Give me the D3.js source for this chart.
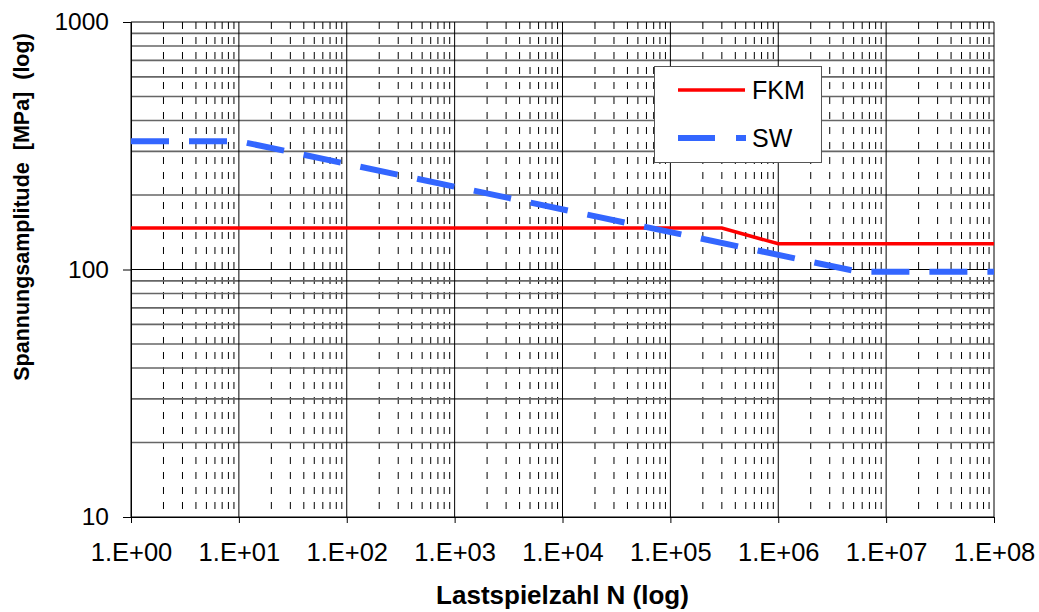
<!DOCTYPE html>
<html>
<head>
<meta charset="utf-8">
<script src="https://cdn.jsdelivr.net/npm/d3@7"></script>
<style>
  body { margin: 0; background: #fff; }
  svg text { font-family: "Liberation Sans", Arial, sans-serif; fill: #000; }
</style>
</head>
<body>
<script>
// values
const fkmN = [1, 3e5, 1e6, 1e8]
const fkmS = [147, 147, 127, 127]
const swN = [1, 10, 5.5e6, 1e8]
const swS = [330, 330, 98, 98]
const xTicks = [1, 1e1, 1e2, 1e3, 1e4, 1e5, 1e6, 1e7, 1e8]
const xTickLabels = ["1.E+00", "1.E+01", "1.E+02", "1.E+03", "1.E+04", "1.E+05", "1.E+06", "1.E+07", "1.E+08"]
const yTicks = [10, 100, 1000]
const yTickLabels = ["10", "100", "1000"]
const seriesNames = ["FKM", "SW"]

const W = 1039, H = 612
const svg = d3.select("body").append("svg").attr("width", W).attr("height", H)

const x = d3.scaleLog().domain([1, 1e8]).range([131, 994])
const y = d3.scaleLog().domain([10, 1000]).range([517, 22])

// minor grid values
let xMinor = []
xTicks.slice(0, -1).forEach(d => { for (let k = 2; k <= 9; k++) xMinor.push(d * k) })
let yMinor = []
yTicks.slice(0, -1).forEach(d => { for (let k = 2; k <= 9; k++) yMinor.push(d * k) })

const grid = svg.append("g")
grid.selectAll(".vmin").data(xMinor).enter().append("line")
  .attr("x1", d => x(d)).attr("x2", d => x(d))
  .attr("y1", y(1000)).attr("y2", y(10))
  .attr("stroke", "#000").attr("stroke-width", 1)
  .attr("stroke-dasharray", "7,8")
grid.selectAll(".hmin").data(yMinor).enter().append("line")
  .attr("x1", x(1)).attr("x2", x(1e8))
  .attr("y1", d => y(d)).attr("y2", d => y(d))
  .attr("stroke", "#666").attr("stroke-width", 1.7)
grid.selectAll(".vmaj").data(xTicks).enter().append("line")
  .attr("x1", d => x(d)).attr("x2", d => x(d))
  .attr("y1", y(1000)).attr("y2", y(10))
  .attr("stroke", "#000").attr("stroke-width", 1)
grid.selectAll(".hmaj").data(yTicks).enter().append("line")
  .attr("x1", x(1)).attr("x2", x(1e8))
  .attr("y1", d => y(d)).attr("y2", d => y(d))
  .attr("stroke", "#000").attr("stroke-width", 1)

// axes
const xAxis = svg.append("g").attr("transform", `translate(0,${y(10)})`)
  .call(d3.axisBottom(x).tickValues(xTicks).tickSize(6).tickPadding(20)
    .tickFormat((d, i) => xTickLabels[i]))
xAxis.select(".domain").attr("stroke", "#000")
xAxis.selectAll("text").attr("font-size", 25.5)

const yAxis = svg.append("g").attr("transform", `translate(${x(1)},0)`)
  .call(d3.axisLeft(y).tickValues(yTicks).tickSize(8).tickPadding(14)
    .tickFormat((d, i) => yTickLabels[i]))
yAxis.select(".domain").attr("stroke", "#000")
yAxis.selectAll("text").attr("font-size", 24.5)

// series
const line = d3.line().x(d => x(d[0])).y(d => y(d[1]))
svg.append("path").datum(d3.zip(fkmN, fkmS))
  .attr("d", line).attr("fill", "none")
  .attr("stroke", "#ff0000").attr("stroke-width", 3.5)
svg.append("path").datum(d3.zip(swN, swS))
  .attr("d", line).attr("fill", "none")
  .attr("stroke", "#3366ff").attr("stroke-width", 6)
  .attr("stroke-dasharray", "38,20")

// legend
const lg = svg.append("g")
lg.append("rect").attr("x", 654.5).attr("y", 66.5).attr("width", 167).attr("height", 96)
  .attr("fill", "#fff").attr("stroke", "#555").attr("stroke-width", 1)
lg.append("line").attr("x1", 678).attr("x2", 745).attr("y1", 90).attr("y2", 90)
  .attr("stroke", "#ff0000").attr("stroke-width", 3.5)
lg.append("line").attr("x1", 678).attr("x2", 746).attr("y1", 138).attr("y2", 138)
  .attr("stroke", "#3366ff").attr("stroke-width", 6).attr("stroke-dasharray", "37,21")
lg.selectAll("text").data(seriesNames).enter().append("text")
  .attr("x", 752).attr("y", (d, i) => 90 + i * 48).attr("dy", "0.36em")
  .attr("font-size", 25).text(d => d)

// axis titles
svg.append("text").attr("x", (x(1) + x(1e8)) / 2).attr("y", 604)
  .attr("text-anchor", "middle").attr("font-size", 26).attr("font-weight", "bold")
  .text("Lastspielzahl N (log)")
svg.append("text").attr("transform", "translate(29,207) rotate(-90)")
  .attr("text-anchor", "middle").attr("font-size", 21.5).attr("font-weight", "bold")
  .attr("xml:space", "preserve").style("white-space", "pre")
  .text("Spannungsamplitude  [MPa]  (log)")
</script>
</body>
</html>
